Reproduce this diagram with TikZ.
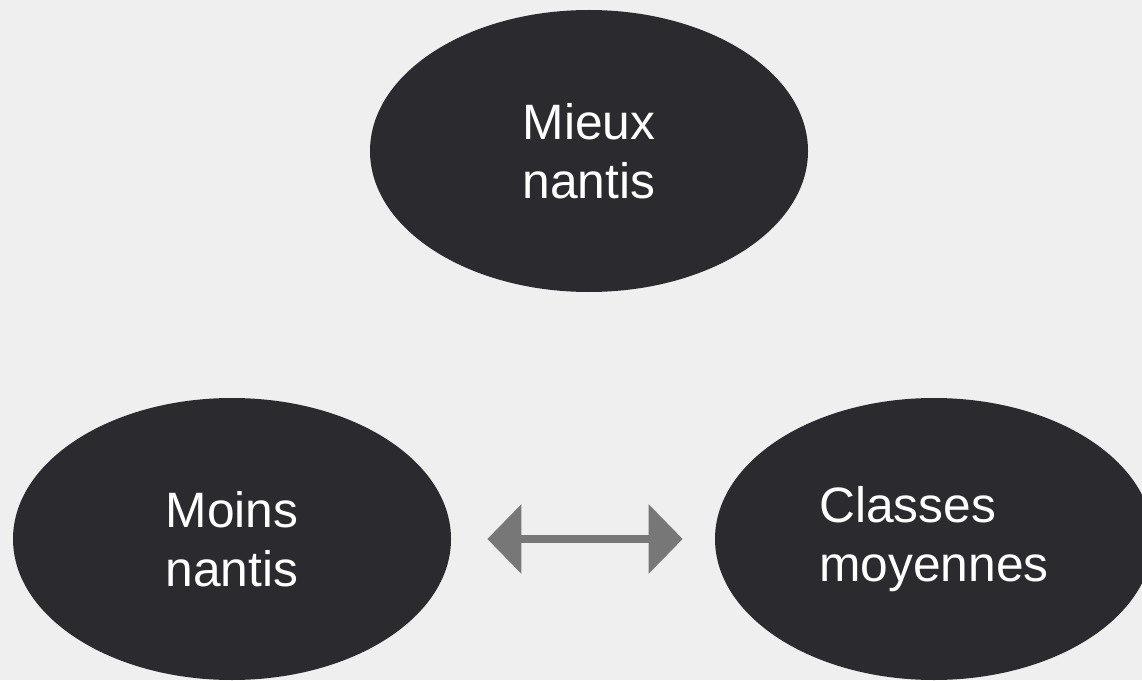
\documentclass[tikz,border=0pt]{standalone}
\usepackage{xcolor}
\usepackage{tikz}
\usepackage{fontspec}
\setmainfont{Liberation Sans}
\usetikzlibrary{shapes,arrows,positioning,calc,arrows.meta}

\definecolor{bggray}{HTML}{EFEFEF}
\definecolor{ovaldark}{HTML}{2B2A2E}
\definecolor{arrowgray}{HTML}{777777}

\tikzset{
    classoval/.style={ellipse, fill=ovaldark, text=white, inner sep=0pt,
        minimum width=8.76cm, minimum height=5.64cm,
        font=\fontsize{28.3pt}{33.5pt}\selectfont},
    linkarrow/.style={draw=arrowgray, line width=4pt,
        {Triangle[length=0.68cm,width=1.36cm]}-{Triangle[length=0.68cm,width=1.36cm]}}
}

\begin{document}
\begin{tikzpicture}
    % Background
    \fill[bggray] (0,0) rectangle (22.84,-13.6);
    \useasboundingbox (0,0) rectangle (22.84,-13.6);

    % Social classes
    \node[classoval, align=center] (mieux) at (11.78,-3.02) {Mieux\\nantis};
    \node[classoval, align=center] (moins) at (4.64,-10.78) {Moins\\nantis};
    \node[classoval, align=left] (moyennes) at (18.68,-10.78) {Classes\\moyennes};

    % Link between lower classes
    \draw[linkarrow, shorten <=0.72cm, shorten >=0.64cm] (moins) -- (moyennes);
\end{tikzpicture}
\end{document}
